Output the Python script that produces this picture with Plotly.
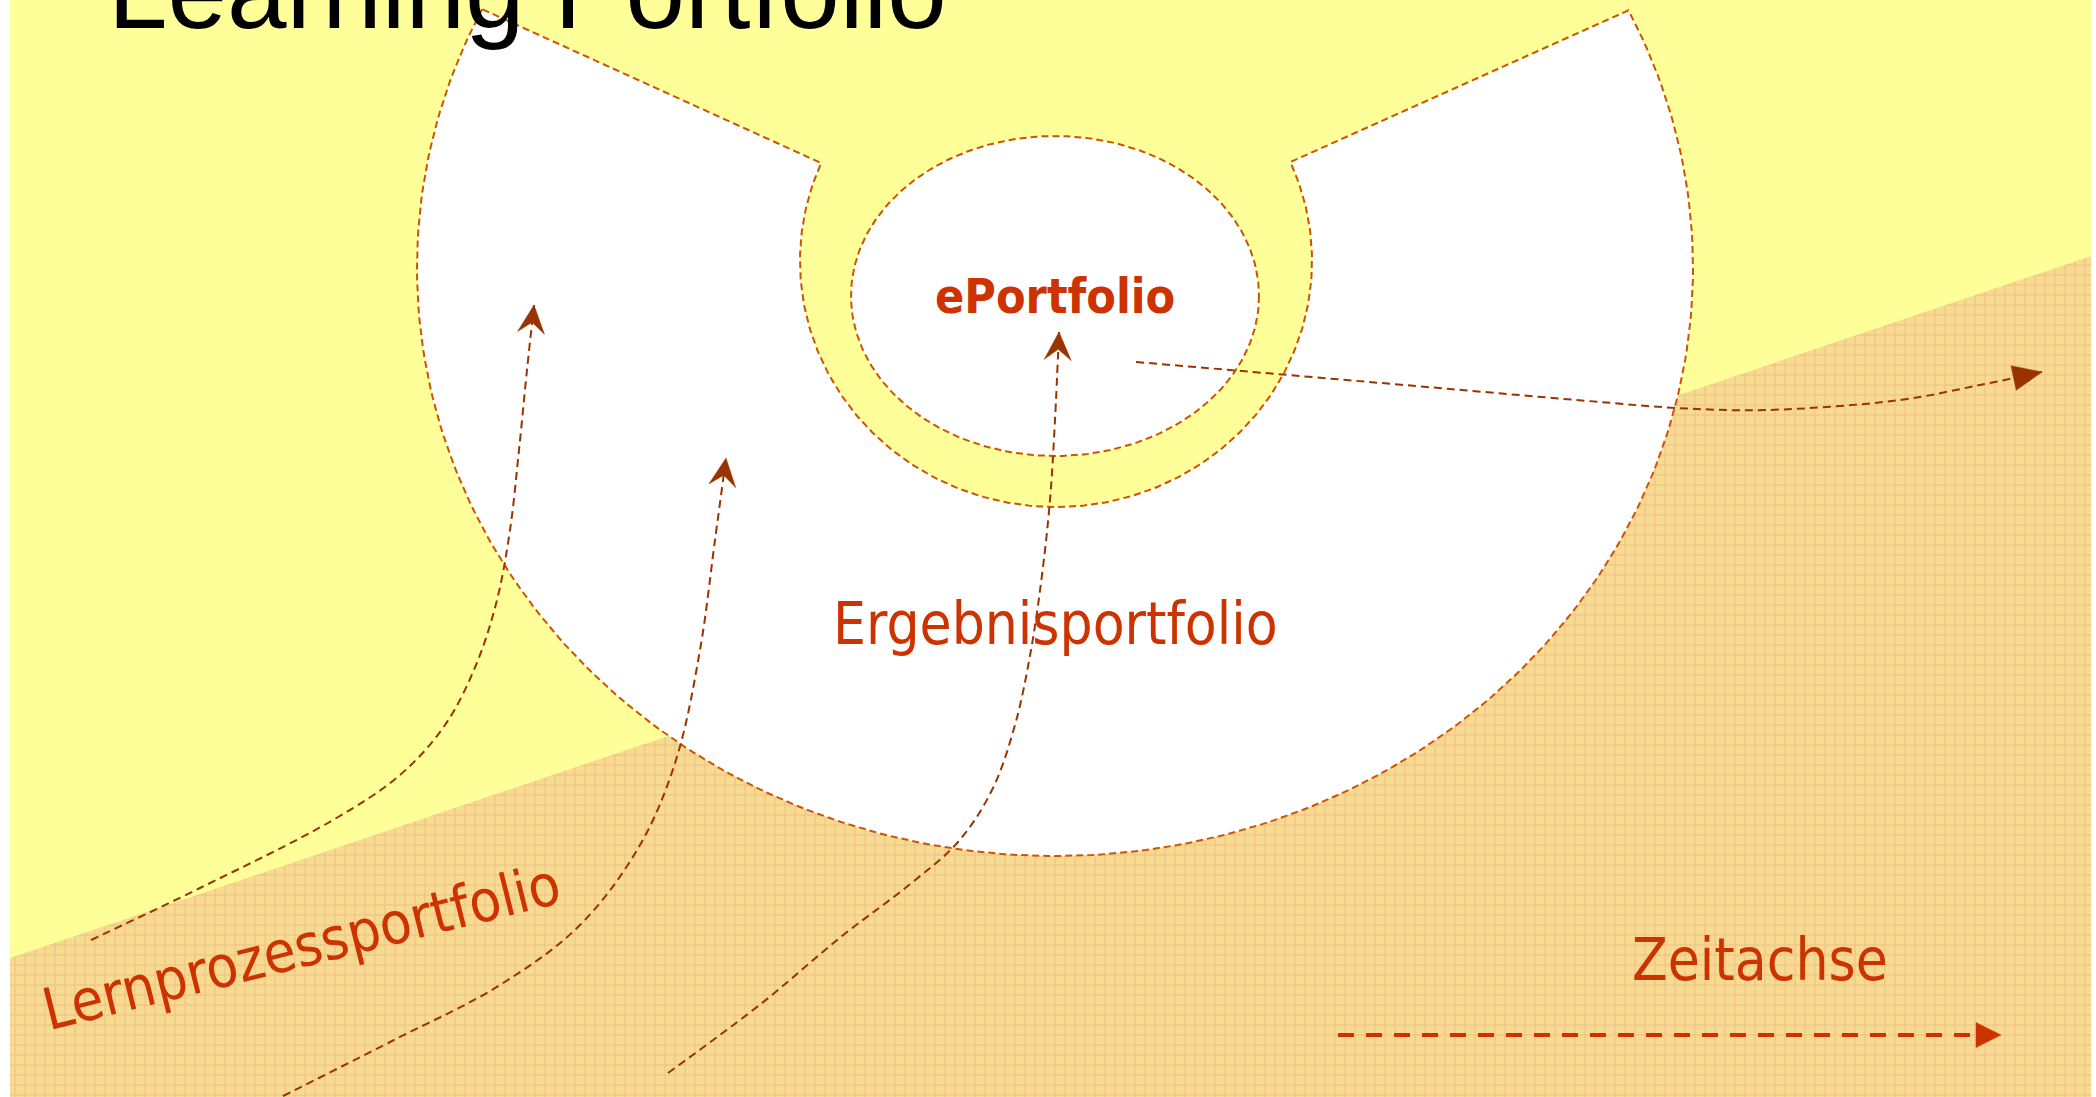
import numpy as np
import plotly.graph_objects as go

W, H = 2096, 1097

# ---------------- diagram geometry (pixel units) -------------
panel_x = [10, 2091]
panel_y = [0, 1097]

ground_x = [10, 2091]          # boundary of the time ground (left, right)
ground_y = [958, 256]

outer_c = [1055, 268]          # Ergebnisportfolio big ellipse
outer_r = [638, 588]
notch_outer_x = [484, 1627]
notch_outer_y = [10, 11]

ring_c = [1056, 261]           # inner boundary of the C shape
ring_r = [256, 246]
notch_inner_x = [821, 1288]
notch_inner_y = [163, 163]

eport_c = [1055, 296]          # ePortfolio ellipse
eport_r = [204, 160]

arrow1_x = [91, 200, 333, 400, 445, 476, 497, 510, 519, 527, 534]
arrow1_y = [940, 888, 820, 775, 725, 665, 600, 530, 450, 370, 305]

arrow2_x = [283, 392, 500, 580, 640, 676, 700, 715, 726]
arrow2_y = [1096, 1041, 985, 925, 845, 760, 650, 540, 458]

arrow3_x = [668, 762, 842, 909, 958, 992, 1015, 1031, 1042, 1050, 1055, 1059]
arrow3_y = [1073, 1003, 936, 885, 842, 790, 725, 650, 575, 500, 420, 332]

arrow4_x = [1136, 1300, 1450, 1600, 1677, 1767, 1900, 1980, 2042]
arrow4_y = [362, 376, 389, 402, 408, 410, 400, 385, 372]

time_x = [1338, 2001]
time_y = [1035, 1035]

labels = ["ePortfolio", "Ergebnisportfolio", "Lernprozessportfolio", "Zeitachse"]
label_x = [1055, 1055, 301, 1760]
label_y = [296, 624, 947, 960]
label_angle = [0, 0, -14, 0]
title_text = "Learning Portfolio"
title_pos = [106, -9]

# ---------------- colours ----------------
YELLOW = "#FFFF99"
TAN = "#F7DB90"
GRID = "#E9AE86"
OUTLINE = "#CC5500"
ARROW = "#993300"
RED = "#CC3300"

fig = go.Figure()


def ell_pts(c, r, t0, t1, n=240):
    t = np.linspace(t0, t1, n)
    return c[0] + r[0] * np.cos(t), c[1] + r[1] * np.sin(t)


def ang(c, r, x, y):
    return np.arctan2((y - c[1]) / r[1], (x - c[0]) / r[0])


# tan ground with grid pattern
fig.add_trace(go.Scatter(
    x=[ground_x[0], ground_x[1], panel_x[1], panel_x[0], ground_x[0]],
    y=[ground_y[0], ground_y[1], panel_y[1], panel_y[1], ground_y[0]],
    fill="toself", mode="lines", line=dict(width=0, color=TAN),
    fillcolor=TAN,
    fillpattern=dict(shape="+", size=10, solidity=0.25, bgcolor=TAN, fgcolor=GRID),
    hoverinfo="skip", showlegend=False))

# C shaped Ergebnisportfolio region
tl = ang(outer_c, outer_r, notch_outer_x[0], notch_outer_y[0])
tr = ang(outer_c, outer_r, notch_outer_x[1], notch_outer_y[1])
if tl < 0:
    tl += 2 * np.pi
ox, oy = ell_pts(outer_c, outer_r, tl, tr)
il = ang(ring_c, ring_r, notch_inner_x[0], notch_inner_y[0])
ir = ang(ring_c, ring_r, notch_inner_x[1], notch_inner_y[1])
if il < 0:
    il += 2 * np.pi
ix, iy = ell_pts(ring_c, ring_r, ir, il)
cx = np.concatenate([ox, ix, ox[:1]])
cy = np.concatenate([oy, iy, oy[:1]])
fig.add_trace(go.Scatter(
    x=cx, y=cy, fill="toself", fillcolor="white", mode="lines",
    line=dict(color=OUTLINE, width=2, dash="7px,4px"),
    hoverinfo="skip", showlegend=False))

# ePortfolio ellipse
ex, ey = ell_pts(eport_c, eport_r, 0, 2 * np.pi, 300)
fig.add_trace(go.Scatter(
    x=ex, y=ey, fill="toself", fillcolor="white", mode="lines",
    line=dict(color=OUTLINE, width=2, dash="7px,4px"),
    hoverinfo="skip", showlegend=False))

# curved arrows
for ax_, ay_ in [(arrow1_x, arrow1_y), (arrow2_x, arrow2_y), (arrow3_x, arrow3_y), (arrow4_x, arrow4_y)]:
    fig.add_trace(go.Scatter(
        x=ax_, y=ay_, mode="lines",
        line=dict(color=ARROW, width=2, dash="8px,5px", shape="spline", smoothing=1.0),
        hoverinfo="skip", showlegend=False))


def head(xs, ys, length, width, notch, color):
    tip = np.array([xs[-1], ys[-1]], float)
    prev = np.array([xs[-2], ys[-2]], float)
    d = tip - prev
    d /= np.linalg.norm(d)
    nrm = np.array([-d[1], d[0]])
    base = tip - length * d
    p1 = base + nrm * width / 2
    p2 = tip - notch * length * d
    p3 = base - nrm * width / 2
    pts = np.array([tip, p1, p2, p3, tip])
    fig.add_trace(go.Scatter(
        x=pts[:, 0], y=pts[:, 1], fill="toself", fillcolor=color, mode="lines",
        line=dict(width=0.5, color=color), hoverinfo="skip", showlegend=False))


head(arrow1_x, arrow1_y, 28, 27, 0.62, ARROW)
head(arrow2_x, arrow2_y, 28, 27, 0.62, ARROW)
head(arrow3_x, arrow3_y, 28, 27, 0.62, ARROW)
head(arrow4_x, arrow4_y, 29, 25, 1.0, ARROW)

# time axis arrow
fig.add_trace(go.Scatter(
    x=[time_x[0], time_x[1] - 24], y=time_y, mode="lines",
    line=dict(color=RED, width=4, dash="16px,12px"),
    hoverinfo="skip", showlegend=False))
head(time_x, time_y, 25, 25, 1.0, RED)

# texts
fonts = [dict(family="DejaVu Sans Condensed, DejaVu Sans", size=48, color=RED, weight="bold"),
         dict(family="DejaVu Sans Condensed, DejaVu Sans", size=58, color=RED),
         dict(family="DejaVu Sans Condensed, DejaVu Sans", size=58, color=RED),
         dict(family="DejaVu Sans Condensed, DejaVu Sans", size=58, color=RED)]
for t, x, y, a, f in zip(labels, label_x, label_y, label_angle, fonts):
    fig.add_annotation(x=x, y=y, xref="x", yref="y", text=t, showarrow=False,
                       textangle=a, font=f, xanchor="center", yanchor="middle")

fig.add_annotation(x=title_pos[0] / W, y=1 - title_pos[1] / H, xref="paper", yref="paper",
                   text=title_text, showarrow=False,
                   font=dict(family="Liberation Sans, Arial", size=107, color="black"),
                   xanchor="left", yanchor="middle")

fig.update_layout(
    width=W, height=H, margin=dict(l=0, r=0, t=0, b=0),
    paper_bgcolor="white", plot_bgcolor="white",
    xaxis=dict(range=[0, W], visible=False, fixedrange=True),
    yaxis=dict(range=[H, 0], visible=False, fixedrange=True),
    shapes=[dict(type="rect", xref="x", yref="y", x0=panel_x[0], x1=panel_x[1],
                 y0=panel_y[0], y1=panel_y[1], fillcolor=YELLOW, line=dict(width=0),
                 layer="below")],
    showlegend=False,
)

fig.write_html("out.html", config={"displayModeBar": False},
               post_script="document.body.style.margin='0px';document.body.style.overflow='hidden';")
